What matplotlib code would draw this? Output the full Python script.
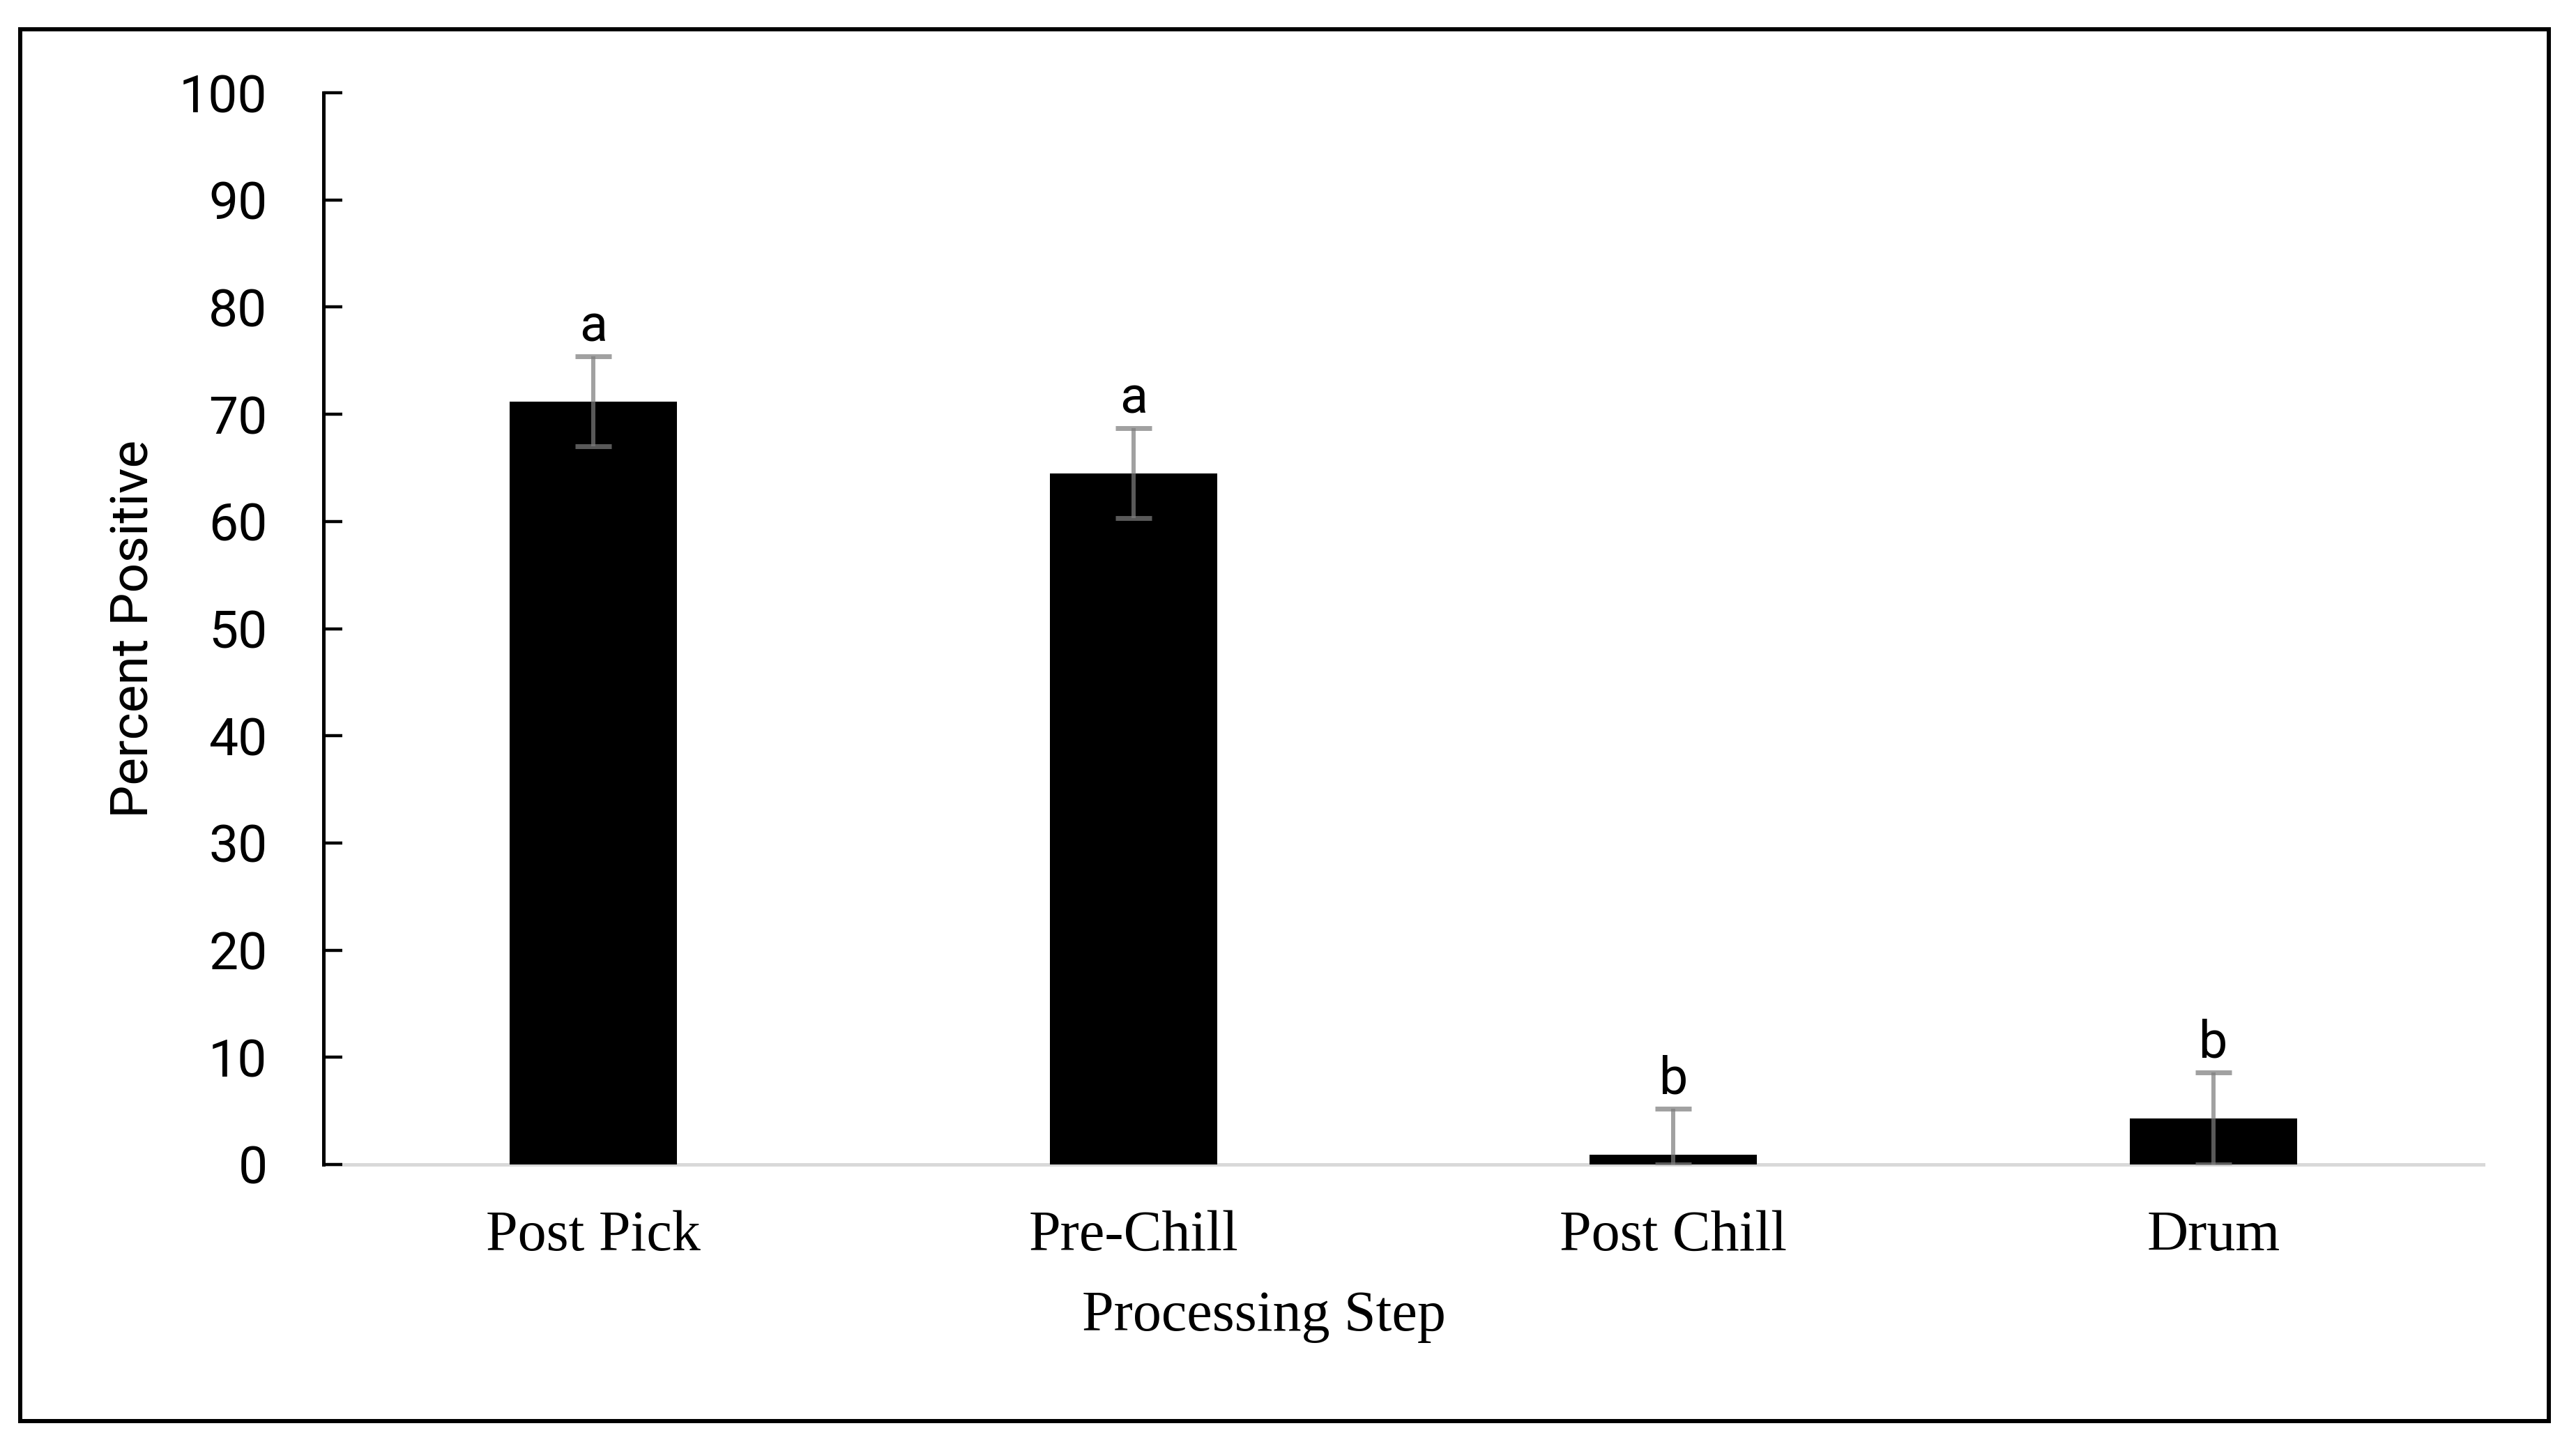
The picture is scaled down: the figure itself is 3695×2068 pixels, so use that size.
import matplotlib.pyplot as plt
from matplotlib.patches import Rectangle

steps = ["Post Pick", "Pre-Chill", "Post Chill", "Drum"]
percent_positive = [71.2, 64.5, 0.9, 4.3]
err_upper = [4.2, 4.2, 4.3, 4.3]
err_lower = [4.2, 4.2, 0.9, 4.3]
letters = ["a", "a", "b", "b"]
y_ticks = [0, 10, 20, 30, 40, 50, 60, 70, 80, 90, 100]

W, H = 3695, 2068
fig = plt.figure(figsize=(W / 100, H / 100), dpi=100)
ax = fig.add_axes([464 / W, 1 - 1670 / H, (3562 - 464) / W, (1670 - 133) / H])

x = list(range(len(steps)))
ax.bar(x, percent_positive, width=0.31, color="black", zorder=2)

eb = ax.errorbar(x, percent_positive, yerr=[err_lower, err_upper], fmt="none",
                 ecolor=(0.49, 0.49, 0.49, 0.72), elinewidth=4.3, capsize=19,
                 capthick=5, zorder=3)
for cap in eb[1]:
    cap.set_color("#595959")

for i in x:
    top = percent_positive[i] + err_upper[i]
    ax.text(i, top + 0.4, letters[i], ha="center", va="bottom",
            fontsize=53, family="Roboto")

ax.set_xlim(-0.5, len(steps) - 0.5)
ax.set_ylim(0, 100)
ax.set_yticks(y_ticks)
ax.set_xticks(x)
ax.set_xticklabels(steps, family="Liberation Serif", fontsize=59)
for lab in ax.get_yticklabels():
    lab.set_family("Roboto")
    lab.set_fontsize(54)

ax.tick_params(axis="y", direction="in", length=19.5, width=3.2, pad=58)
ax.tick_params(axis="x", length=0, pad=47)

ax.spines["top"].set_visible(False)
ax.spines["right"].set_visible(False)
ax.spines["left"].set_linewidth(3.6)
ax.spines["bottom"].set_color("#d9d9d9")
ax.spines["bottom"].set_linewidth(3.6)
ax.spines["bottom"].set_zorder(1)

fig.text(192 / W, 1 - 902 / H, "Percent Positive", rotation=90, ha="center",
         va="center", fontsize=54, family="Roboto")
fig.text(1813 / W, 1 - 1850 / H, "Processing Step", ha="center", va="top",
         fontsize=59, family="Liberation Serif")

# outer border around the whole figure
fig.patches.append(Rectangle((29 / W, 1 - 2038 / H), (3656 - 29) / W,
                             (2038 - 42) / H, transform=fig.transFigure,
                             fill=False, edgecolor="black", linewidth=4.3))

fig.savefig("out.png", dpi=100)
